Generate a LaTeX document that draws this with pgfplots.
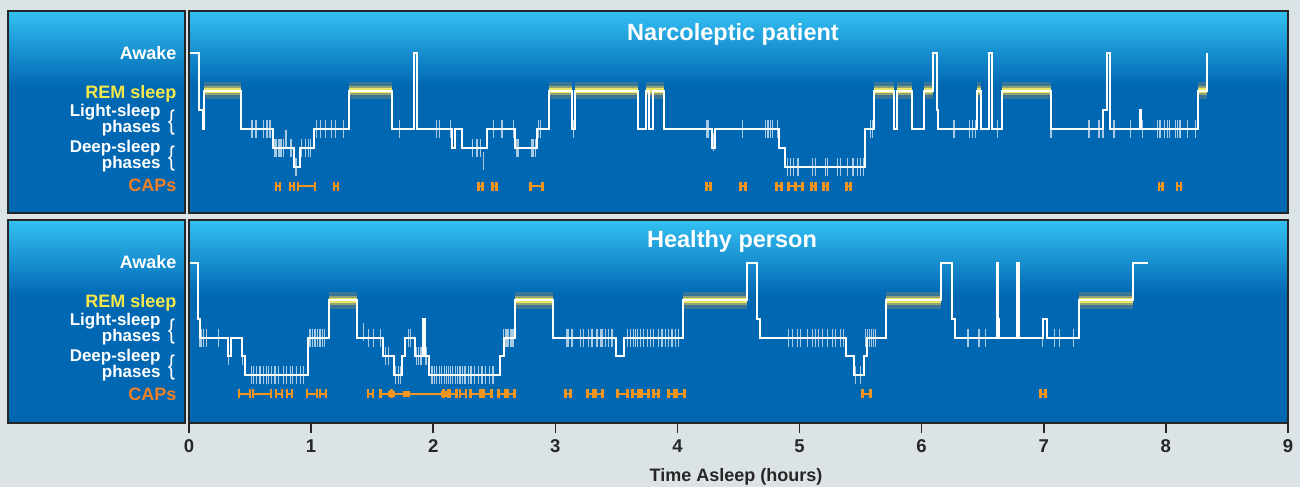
\documentclass[border=0pt]{standalone}
\usepackage{pgfplots}
\pgfplotsset{compat=1.18}
\usepackage{fontspec}
\setmainfont{Liberation Sans}
\definecolor{bgc}{RGB}{220,227,230}
\definecolor{panel}{RGB}{0,103,179}
\definecolor{paneltop}{RGB}{52,192,242}
\definecolor{frame}{RGB}{38,38,38}
\definecolor{remy}{RGB}{246,232,72}
\definecolor{capo}{RGB}{247,148,29}
\definecolor{capt}{RGB}{240,128,40}
\definecolor{glowa}{RGB}{140,140,110}
\definecolor{glowb}{RGB}{205,195,95}
\definecolor{glowc}{RGB}{245,235,100}
\newcommand\lab{\fontsize{18}{18}\selectfont\bfseries}
\newcommand\labs{\fontsize{17}{17}\selectfont\bfseries}
\newcommand\mybrace{\fontsize{27}{27}\selectfont\scalebox{0.75}[1]{\{}}
\pgfplotsset{
  hyp/.style={scale only axis, width=1099pt, xmin=0, xmax=9, axis on top,
    axis line style={draw=frame, line width=2.5pt}, ytick=\empty,
    unbounded coords=jump},
  steps/.style={const plot, white, line width=2pt, no marks},
  arou/.style={only marks, mark=|, mark size=9pt, white, opacity=0.65, line width=1.2pt},
  ga/.style={glowa, line width=17pt, opacity=0.4, no marks},
  gb/.style={glowb, line width=9pt, opacity=0.6, no marks},
  gc/.style={glowc, line width=5pt, opacity=0.9, no marks},
  caps/.style={capo, line width=2pt, mark=|, mark options={solid, line width=2.6pt, mark size=4.5pt}},
}
\begin{document}
\begin{tikzpicture}[x=1pt,y=1pt]
\path[use as bounding box] (0,0) rectangle (1300,487);
\fill[bgc] (0,0) rectangle (1300,487);
% label boxes
\fill[panel] (8,274) rectangle (185,476);
\shade[top color=paneltop, bottom color=panel] (8,400) rectangle (185,476);
\draw[frame, line width=2.5pt] (8,274) rectangle (185,476);
\fill[panel] (8,64) rectangle (185,267);
\shade[top color=paneltop, bottom color=panel] (8,191) rectangle (185,267);
\draw[frame, line width=2.5pt] (8,64) rectangle (185,267);

% ---------------- Top: narcoleptic patient
\begin{axis}[hyp, at={(189pt,274pt)}, anchor=south west, height=202pt,
  ymin=-2.42, ymax=8.21, xtick=\empty]
\fill[panel] (rel axis cs:0,0) rectangle (rel axis cs:1,1);
\fill[top color=paneltop, bottom color=panel] (rel axis cs:0,1) rectangle (rel axis cs:1,0.63);
% REM glow
\addplot[ga] coordinates {(0.125,4)(0.425,4)(0.425,nan)(1.31,4)(1.665,4)(1.665,nan)(2.945,4)(3.14,4)(3.14,nan)(3.165,4)(3.68,4)(3.68,nan)(3.74,4)(3.89,4)(3.89,nan)(5.61,4)(5.77,4)(5.77,nan)(5.795,4)(5.92,4)(5.92,nan)(6.02,4)(6.09,4)(6.09,nan)(6.455,4)(6.49,4)(6.49,nan)(6.66,4)(7.06,4)(7.06,nan)(8.26,4)(8.34,4)};
\addplot[gb] coordinates {(0.125,4)(0.425,4)(0.425,nan)(1.31,4)(1.665,4)(1.665,nan)(2.945,4)(3.14,4)(3.14,nan)(3.165,4)(3.68,4)(3.68,nan)(3.74,4)(3.89,4)(3.89,nan)(5.61,4)(5.77,4)(5.77,nan)(5.795,4)(5.92,4)(5.92,nan)(6.02,4)(6.09,4)(6.09,nan)(6.455,4)(6.49,4)(6.49,nan)(6.66,4)(7.06,4)(7.06,nan)(8.26,4)(8.34,4)};
\addplot[gc] coordinates {(0.125,4)(0.425,4)(0.425,nan)(1.31,4)(1.665,4)(1.665,nan)(2.945,4)(3.14,4)(3.14,nan)(3.165,4)(3.68,4)(3.68,nan)(3.74,4)(3.89,4)(3.89,nan)(5.61,4)(5.77,4)(5.77,nan)(5.795,4)(5.92,4)(5.92,nan)(6.02,4)(6.09,4)(6.09,nan)(6.455,4)(6.49,4)(6.49,nan)(6.66,4)(7.06,4)(7.06,nan)(8.26,4)(8.34,4)};
% arousal ticks
\addplot[arou] coordinates {(0.516,2)(0.549,2)(0.607,2)(0.639,2)(0.664,2)(1.041,2)(1.074,2)(1.115,2)(1.170,2)(1.197,2)(1.265,2)(1.724,2)(2.03,2)(2.052,2)(2.139,2)(2.494,2)(2.563,2)(2.658,2)(2.863,2)(2.877,2)(3.15,2)(4.243,2)(4.257,2)(4.530,2)(4.721,2)(4.735,2)(4.748,2)(4.762,2)(4.776,2)(4.817,2)(5.582,2)(5.596,2)(6.265,2)(6.393,2)(6.415,2)(6.443,2)(6.62,2)(7.06,2)(7.371,2)(7.453,2)(7.486,2)(7.576,2)(7.713,2)(7.809,2)(7.932,2)(7.945,2)(7.959,2)(7.986,2)(8.014,2)(8.027,2)(8.082,2)(8.096,2)(8.109,2)(8.123,2)(8.178,2)(8.246,2)
(0.705,1)(0.719,1)(0.732,1)(0.746,1)(0.760,1)(0.773,1)(0.828,1)(0.842,1)(0.924,1)(0.951,1)(0.978,1)(0.992,1)(2.325,1)(2.358,1)(2.385,1)(2.686,1)(2.699,1)(2.809,1)(2.822,1)(2.836,1)(4.298,1.3)(0.795,1.5)(2.412,0.3)
(0.87,0)(0.88,0)(4.899,0)(4.926,0)(4.953,0)(4.981,0)(4.994,0)(5.104,0)(5.131,0)(5.213,0)(5.227,0)(5.309,0)(5.336,0)(5.391,0)(5.432,0)(5.445,0)(5.473,0)(5.5,0)(5.527,0)};
% hypnogram
\addplot[steps] coordinates {(0,6)(0.08,3)(0.115,2)(0.125,4)(0.425,2)(0.685,1)(0.86,0)(0.91,1)(1.025,2)(1.31,4)(1.665,2)(1.845,6)(1.865,2)(2.155,1)(2.18,2)(2.235,1)(2.44,2)(2.67,1)(2.85,2)(2.945,4)(3.14,2)(3.165,4)(3.68,2)(3.74,4)(3.765,2)(3.80,4)(3.89,2)(4.28,1)(4.31,2)(4.83,1)(4.885,0)(5.54,2)(5.61,4)(5.77,2)(5.795,4)(5.92,2)(6.02,4)(6.09,6)(6.125,3)(6.135,2)(6.455,4)(6.49,2)(6.55,6)(6.58,2)(6.66,4)(7.06,2)(7.486,3)(7.522,6)(7.545,2)(7.787,3)(7.80,2)(8.26,4)(8.34,6)};
% CAPs
\addplot[caps] coordinates {(0.713,-1)(0.746,-1)(0.746,nan)(0.828,-1)(0.861,-1)(0.861,nan)(0.893,-1)(1.033,-1)(1.033,nan)(1.189,-1)(1.221,-1)(1.221,nan)(2.369,-1)(2.402,-1)(2.402,nan)(2.484,-1)(2.516,-1)(2.516,nan)(2.795,-1)(2.893,-1)(2.893,nan)(4.238,-1)(4.270,-1)(4.270,nan)(4.516,-1)(4.557,-1)(4.557,nan)(4.811,-1)(4.852,-1)(4.852,nan)(4.910,-1)(4.967,-1)(4.967,nan)(4.967,-1)(5.025,-1)(5.025,nan)(5.098,-1)(5.131,-1)(5.131,nan)(5.197,-1)(5.230,-1)(5.230,nan)(5.385,-1)(5.418,-1)(5.418,nan)(7.943,-1)(7.975,-1)(7.975,nan)(8.090,-1)(8.123,-1)};
\end{axis}

% ---------------- Bottom: healthy person
\begin{axis}[hyp, at={(189pt,64pt)}, anchor=south west, height=203pt,
  ymin=-2.57, ymax=8.29, xtick={0,1,...,9}, xtick pos=bottom, tick align=outside,
  major tick length=10pt, tick style={draw=frame, line width=1.6pt},
  xticklabel style={font=\fontsize{18.5}{18.5}\selectfont\bfseries, text=frame, yshift=-3pt},
  /pgf/number format/assume math mode=true]
\fill[panel] (rel axis cs:0,0) rectangle (rel axis cs:1,1);
\fill[top color=paneltop, bottom color=panel] (rel axis cs:0,1) rectangle (rel axis cs:1,0.63);
\addplot[ga] coordinates {(1.15,4)(1.375,4)(1.375,nan)(2.672,4)(2.98,4)(2.98,nan)(4.047,4)(4.566,4)(4.566,nan)(5.705,4)(6.156,4)(6.156,nan)(7.29,4)(7.735,4)};
\addplot[gb] coordinates {(1.15,4)(1.375,4)(1.375,nan)(2.672,4)(2.98,4)(2.98,nan)(4.047,4)(4.566,4)(4.566,nan)(5.705,4)(6.156,4)(6.156,nan)(7.29,4)(7.735,4)};
\addplot[gc] coordinates {(1.15,4)(1.375,4)(1.375,nan)(2.672,4)(2.98,4)(2.98,nan)(4.047,4)(4.566,4)(4.566,nan)(5.705,4)(6.156,4)(6.156,nan)(7.29,4)(7.735,4)};
\addplot[arou] coordinates {(0.090,2)(0.104,2)(0.117,2)(0.145,2)(0.240,2)(0.984,2)(0.998,2)(1.011,2)(1.025,2)(1.038,2)(1.052,2)(1.066,2)(1.079,2)(1.093,2)(1.107,2)(1.429,2.3)(1.470,2)(1.511,2)(1.566,2)(1.798,2)(1.811,2)(2.577,2)(2.59,2)(2.604,2)(2.618,2)(2.631,2)(2.645,2)(2.658,2)(3.096,2)(3.109,2)(3.137,2)(3.205,2)(3.232,2)(3.273,2)(3.301,2)(3.342,2)(3.369,2)(3.383,2)(3.410,2)(3.437,2)(3.465,2)(3.588,2)(3.615,2)(3.642,2)(3.656,2)(3.670,2)(3.697,2)(3.724,2)(3.752,2)(3.779,2)(3.806,2)(3.847,2)(3.874,2)(3.902,2)(3.929,2)(3.956,2)(3.984,2)(4.011,2)(4.913,2)(4.940,2)(4.981,2)(5.008,2)(5.063,2)(5.104,2)(5.131,2)(5.158,2)(5.186,2)(5.227,2)(5.268,2)(5.295,2)(5.336,2)(5.363,2)(5.541,2)(5.555,2)(5.576,2)(5.588,2)(5.604,2)(5.623,2)(6.380,2)(6.470,2)(6.525,2)(6.99,2)(7.085,2)(7.126,2)(7.243,2)
(0.44,1)(1.607,1)(1.634,1)(1.866,1)(1.880,1)(1.893,1)(1.907,1)(1.934,1)(1.948,1)(0.325,1)
(0.51,0)(0.53,0)(0.555,0)(0.582,0)(0.609,0)(0.637,0)(0.650,0)(0.678,0)(0.705,0)(0.732,0)(0.773,0)(0.80,0)(0.828,0)(0.85,0)(0.883,0)(0.910,0)(0.94,0)(1.689,0)(1.716,0)(1.730,0)(1.99,0)(2.01,0)(2.03,0)(2.05,0)(2.07,0)(2.09,0)(2.11,0)(2.125,0)(2.14,0)(2.16,0)(2.18,0)(2.20,0)(2.22,0)(2.24,0)(2.26,0)(2.29,0)(2.31,0)(2.34,0)(2.37,0)(2.40,0)(2.43,0)(2.46,0)(2.49,0)(5.459,0)(5.5,0)};
\addplot[steps] coordinates {(0,6)(0.076,3)(0.09,2)(0.317,1)(0.344,2)(0.437,1)(0.459,0)(0.978,2)(1.15,4)(1.375,2)(1.588,1)(1.675,0)(1.743,1)(1.77,2)(1.852,1)(1.92,3)(1.93,1)(1.962,0)(2.549,1)(2.577,2)(2.672,4)(2.98,2)(3.5,1)(3.56,2)(4.047,4)(4.566,6)(4.653,3)(4.675,2)(5.377,1)(5.45,0)(5.527,1)(5.549,2)(5.705,4)(6.156,6)(6.252,3)(6.27,2)(6.62,6)(6.628,3)(6.635,2)(6.78,6)(6.80,2)(6.99,3)(7.03,2)(7.29,4)(7.735,6)(7.858,6)};
\addplot[caps] coordinates {(0.410,-1)(0.500,-1)(0.500,nan)(0.525,-1)(0.672,-1)(0.672,nan)(0.713,-1)(0.762,-1)(0.762,nan)(0.803,-1)(0.844,-1)(0.844,nan)(0.967,-1)(1.049,-1)(1.049,nan)(1.074,-1)(1.123,-1)(1.123,nan)(1.467,-1)(1.508,-1)(1.508,nan)(1.566,-1)(1.656,-1)(1.656,nan)(1.656,-1)(2.082,-1)(2.082,nan)(2.082,-1)(2.123,-1)(2.123,nan)(2.139,-1)(2.189,-1)(2.189,nan)(2.221,-1)(2.270,-1)(2.270,nan)(2.303,-1)(2.385,-1)(2.385,nan)(2.410,-1)(2.475,-1)(2.475,nan)(2.533,-1)(2.590,-1)(2.590,nan)(2.607,-1)(2.664,-1)(2.664,nan)(3.082,-1)(3.123,-1)(3.123,nan)(3.262,-1)(3.311,-1)(3.311,nan)(3.328,-1)(3.385,-1)(3.385,nan)(3.508,-1)(3.590,-1)(3.590,nan)(3.631,-1)(3.680,-1)(3.680,nan)(3.705,-1)(3.762,-1)(3.762,nan)(3.803,-1)(3.844,-1)(3.844,nan)(3.926,-1)(3.975,-1)(3.975,nan)(3.992,-1)(4.057,-1)(4.057,nan)(5.516,-1)(5.582,-1)(5.582,nan)(6.975,-1)(7.016,-1)};
\addplot[capo, only marks, mark=square*, mark size=2.6pt] coordinates {(1.656,-1)(1.779,-1)(2.09,-1)(2.11,-1)};
\end{axis}

% labels
\foreach \dy in {0,209}{
  \node[anchor=base east, text=white, font=\lab] at (180,427-\dy) {Awake};
  \node[anchor=base east, text=remy, font=\lab] at (180,388.5-\dy) {REM sleep};
  \node[anchor=base east, text=white, font=\labs, inner ysep=0pt] at (164,370.5-\dy) {Light-sleep};
  \node[anchor=base east, text=white, font=\labs, inner ysep=0pt] at (164,354.5-\dy) {phases};
  \node[text=white, inner sep=0pt] at (171.5,364.5-\dy) {\mybrace};
  \node[anchor=base east, text=white, font=\labs, inner ysep=0pt] at (164,334.5-\dy) {Deep-sleep};
  \node[anchor=base east, text=white, font=\labs, inner ysep=0pt] at (164,318.5-\dy) {phases};
  \node[text=white, inner sep=0pt] at (171.5,328.7-\dy) {\mybrace};
  \node[anchor=base east, text=capt, font=\lab] at (180,295-\dy) {CAPs};
}
\node[anchor=base, text=white, font=\fontsize{23.5}{24}\selectfont\bfseries] at (733,446) {Narcoleptic patient};
\node[anchor=base, text=white, font=\fontsize{23.5}{24}\selectfont\bfseries] at (732,239.5) {Healthy person};
\node[anchor=base, text=frame, font=\fontsize{18}{18}\selectfont\bfseries] at (736,6) {Time Asleep (hours)};
\end{tikzpicture}
\end{document}
